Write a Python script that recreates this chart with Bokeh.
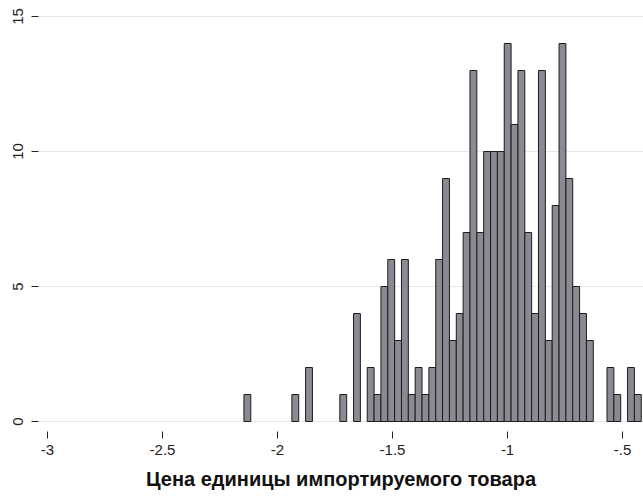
from bokeh.plotting import figure
from bokeh.models import Range1d, FixedTicker
from bokeh.embed import file_html
from bokeh.resources import INLINE

# histogram data (bin counts)
bin_start = -2.146
bin_width = 0.02978
counts = [1, 0, 0, 0, 0, 0, 0, 1, 0, 2, 0, 0, 0, 0, 1, 0, 4, 0,
          2, 1, 5, 6, 3, 6, 1, 2, 1, 2, 6, 9, 3, 4, 7, 13, 7, 10, 10, 10,
          14, 11, 13, 7, 4, 13, 3, 8, 14, 9, 5, 4, 3,
          0, 0, 2, 1, 0, 2, 1]
x_ticks = [-3, -2.5, -2, -1.5, -1, -0.5]
x_tick_labels = ["-3", "-2.5", "-2", "-1.5", "-1", "-.5"]
y_ticks = [0, 5, 10, 15]
x_title = "Цена единицы импортируемого товара"

lefts, rights, tops = [], [], []
for i, c in enumerate(counts):
    if c > 0:
        lefts.append(bin_start + i * bin_width)
        rights.append(bin_start + (i + 1) * bin_width)
        tops.append(c)

p = figure(width=643, height=499, output_backend="svg", toolbar_location=None,
           x_range=Range1d(-3.039, -0.409), y_range=Range1d(-0.370, 15.296),
           min_border_left=38, min_border_right=0, min_border_top=8,
           min_border_bottom=68)
p.outline_line_color = None
p.background_fill_color = "white"

p.quad(left=lefts, right=rights, bottom=0, top=tops,
       fill_color="#8a8b92", line_color="#1c1c1c", line_width=1)

font = "Liberation Sans"
p.xaxis.ticker = FixedTicker(ticks=x_ticks)
p.xaxis.major_label_overrides = {t: l for t, l in zip(x_ticks, x_tick_labels)}
p.yaxis.ticker = FixedTicker(ticks=y_ticks)

for ax in (p.xaxis[0], p.yaxis[0]):
    ax.axis_line_color = None
    ax.minor_tick_line_color = None
    ax.major_tick_in = 0
    ax.major_tick_out = 7
    ax.major_tick_line_color = "#222222"
    ax.major_label_text_font = font
    ax.major_label_text_font_size = "15px"
    ax.major_label_text_color = "#222222"

p.xaxis.major_label_standoff = 6
p.yaxis.major_label_orientation = "vertical"
p.yaxis.major_label_standoff = 8

p.xaxis.axis_label = x_title
p.xaxis.axis_label_text_font = font
p.xaxis.axis_label_text_font_style = "bold"
p.xaxis.axis_label_text_font_size = "20px"
p.xaxis.axis_label_text_color = "#111111"
p.xaxis.axis_label_standoff = 10

p.xgrid.grid_line_color = None
p.ygrid.grid_line_color = "#e8e8e8"
p.ygrid.grid_line_width = 1

open("out.html", "w").write(file_html(p, INLINE))
